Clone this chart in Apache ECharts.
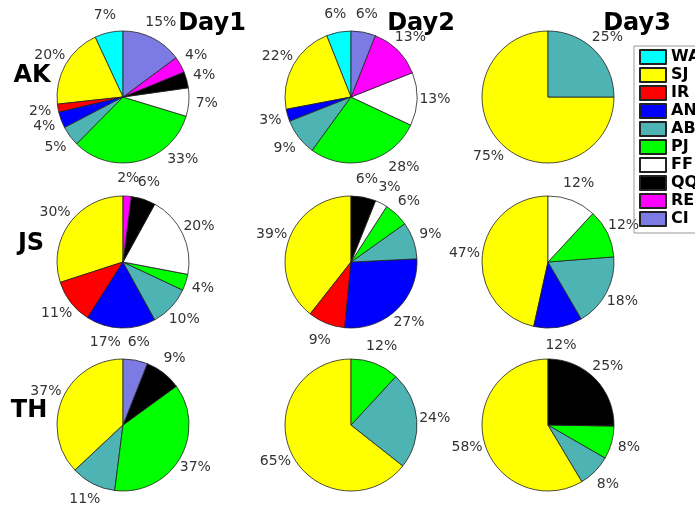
<!DOCTYPE html>
<html>
<head>
<meta charset="utf-8">
<script src="https://cdn.jsdelivr.net/npm/echarts@6/dist/echarts.min.js"></script>
<style>
html,body{margin:0;padding:0;background:#fff;}
#chart{width:695px;height:508px;}
</style>
</head>
<body>
<div id="chart"></div>
<script>
// Categories (legend order) and colours
const categories = ['WA','SJ','IR','AN','AB','PJ','FF','QQ','RE','CI'];
const catColors = ['#00ffff','#ffff00','#ff0000','#0000ff','#4db3b3','#00ff00','#ffffff','#000000','#ff00ff','#7b7be3'];
const groups = ['AK','JS','TH'];
const days = ['Day1','Day2','Day3'];

// Percent values per pie, in category order (0 = absent)
const AK_Day1 = [7,20,2,4,5,33,7,4,4,15];
const AK_Day2 = [6,22,0,3,9,28,13,0,13,6];
const AK_Day3 = [0,75,0,0,25,0,0,0,0,0];
const JS_Day1 = [0,30,11,17,10,4,20,6,2,0];
const JS_Day2 = [0,39,9,27,9,6,3,6,0,0];
const JS_Day3 = [0,47,0,12,18,12,12,0,0,0];
const TH_Day1 = [0,37,0,0,11,37,0,9,0,6];
const TH_Day2 = [0,65,0,0,24,12,0,0,0,0];
const TH_Day3 = [0,58,0,0,8,8,0,25,0,0];

const table = [
  [AK_Day1, AK_Day2, AK_Day3],
  [JS_Day1, JS_Day2, JS_Day3],
  [TH_Day1, TH_Day2, TH_Day3]
];

// layout / style
const colX = [123, 351, 548];
const rowY = [97, 262, 425];
const R = 66;
// small label nudges (style only) to mirror the reference's label placement
const labelNudge = {
  'AK Day1|PJ': [39, -19],
  'AK Day2|PJ': [32, -11],
  'JS Day1|AN': [-15, -4]
};

function buildData(vals, transparent, key){
  const out = [];
  vals.forEach((v,i)=>{
    if (v > 0) {
      const item = {
        name: categories[i],
        value: v,
        itemStyle: transparent
          ? {color:'rgba(0,0,0,0)', borderWidth:0}
          : {color: catColors[i], borderColor:'#222', borderWidth:0.8}
      };
      const n = labelNudge[key + '|' + categories[i]];
      if (transparent && n) item.label = {offset: n};
      out.push(item);
    }
  });
  return out;
}

const series = [];
// real pies first (legend takes colours from them)
table.forEach((row, r)=>{
  row.forEach((vals, c)=>{
    const key = groups[r]+' '+days[c];
    series.push({
      type:'pie',
      name: key,
      center:[colX[c], rowY[r]],
      radius:[0, R],
      startAngle:90,
      clockwise:false,
      avoidLabelOverlap:false,
      label:{show:false},
      labelLine:{show:false},
      emphasis:{disabled:true},
      silent:true,
      data: buildData(vals, false, key)
    });
  });
});
// transparent rings carrying the percentage labels
table.forEach((row, r)=>{
  row.forEach((vals, c)=>{
    const key = groups[r]+' '+days[c];
    series.push({
      type:'pie',
      name: key+' labels',
      center:[colX[c], rowY[r]],
      radius:[69, 93],
      startAngle:90,
      clockwise:false,
      avoidLabelOverlap:false,
      legendHoverLink:false,
      label:{
        show:true, position:'inside', formatter:'{c}%',
        color:'#333', fontSize:14, fontFamily:'DejaVu Sans',
        textBorderWidth:0
      },
      labelLayout:{hideOverlap:false},
      labelLine:{show:false},
      emphasis:{disabled:true},
      silent:true,
      data: buildData(vals, true, key)
    });
  });
});

const titleX = [212, 421, 637];
const rowLabelPos = [[32,76],[31,244],[29,411]];
const graphics = [];
days.forEach((d,i)=>{
  graphics.push({type:'text', x:titleX[i], y:24, style:{text:d, fill:'#000', font:'bold 24px "DejaVu Sans"', textAlign:'center', textVerticalAlign:'middle'}});
});
groups.forEach((g,i)=>{
  graphics.push({type:'text', x:rowLabelPos[i][0], y:rowLabelPos[i][1], style:{text:g, fill:'#000', font:'bold 24px "DejaVu Sans"', textAlign:'center', textVerticalAlign:'middle'}});
});

const chart = echarts.init(document.getElementById('chart'), null, {renderer:'canvas'});
chart.setOption({
  animation:false,
  backgroundColor:'#fff',
  legend:{
    data: categories,
    orient:'vertical',
    left:634, top:46,
    padding:[3,30,6,5],
    itemWidth:26, itemHeight:14, itemGap:2,
    icon:'rect',
    borderColor:'#999', borderWidth:1,
    selectedMode:false,
    textStyle:{color:'#000', fontWeight:'bold', fontSize:16, fontFamily:'DejaVu Sans'}
  },
  graphic: graphics,
  series: series
});
</script>
</body>
</html>
